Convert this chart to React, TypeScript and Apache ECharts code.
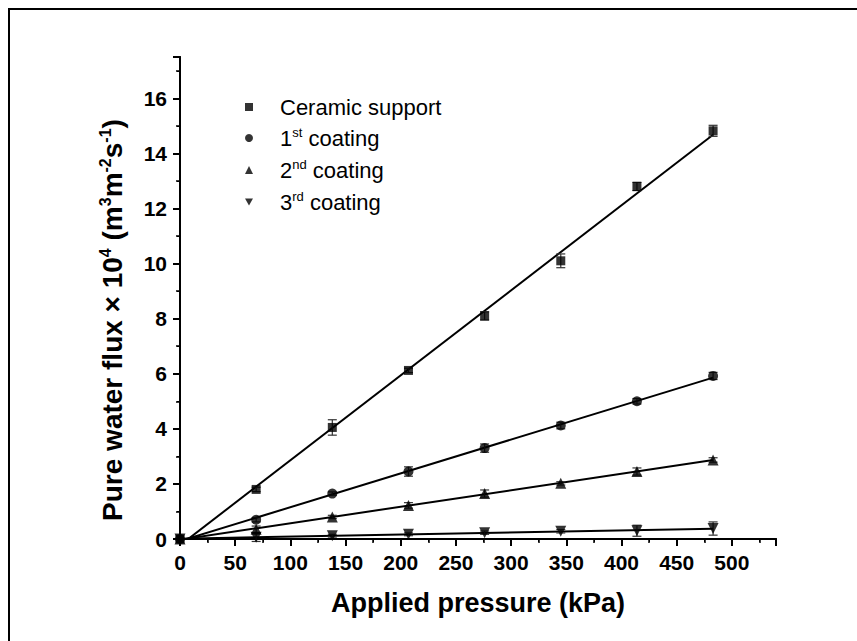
import React, { useEffect, useRef } from "react";
import * as echarts from "echarts";

const pressures = [0, 69, 138, 207, 276, 345, 414, 483];
const ceramic = [0, 1.8, 4.05, 6.12, 8.1, 10.1, 12.8, 14.82];
const ceramicErr = [0, 0.08, 0.28, 0.08, 0.15, 0.25, 0.15, 0.2];
const coat1 = [0, 0.7, 1.65, 2.45, 3.3, 4.12, 5.0, 5.92];
const coat1Err = [0, 0.08, 0.06, 0.17, 0.15, 0.12, 0.1, 0.13];
const coat2 = [0, 0.35, 0.8, 1.22, 1.65, 2.02, 2.45, 2.87];
const coat2Err = [0, 0.12, 0.06, 0.1, 0.13, 0.06, 0.13, 0.08];
const coat3 = [0, 0.06, 0.12, 0.17, 0.23, 0.28, 0.3, 0.38];
const coat3Err = [0, 0.15, 0.05, 0.05, 0.06, 0.06, 0.2, 0.24];

const seriesNames = ["Ceramic support", "1st coating", "2nd coating", "3rd coating"];
const legendLabels: Record<string, string> = {
  "Ceramic support": "{t|Ceramic support}",
  "1st coating": "{t|1}{s|st}{t| coating}",
  "2nd coating": "{t|2}{s|nd}{t| coating}",
  "3rd coating": "{t|3}{s|rd}{t| coating}",
};
const symbols = ["rect", "circle", "triangle", "path://M0,0L10,0L5,9Z"];
const symbolSizes = [9, 10, 11, 11];

function fit(xs: number[], ys: number[]) {
  const n = xs.length;
  const mx = xs.reduce((a, b) => a + b, 0) / n;
  const my = ys.reduce((a, b) => a + b, 0) / n;
  let num = 0, den = 0;
  for (let i = 0; i < n; i++) {
    num += (xs[i] - mx) * (ys[i] - my);
    den += (xs[i] - mx) ** 2;
  }
  const k = num / den;
  const b = my - k * mx;
  const x0 = xs[0], x1 = xs[n - 1];
  return [[x0, k * x0 + b], [x1, k * x1 + b]];
}

export default function App() {
  const ref = useRef<HTMLDivElement>(null);
  useEffect(() => {
    if (!ref.current) return;
    const chart = echarts.init(ref.current, undefined, { renderer: "svg" });
    const values = [ceramic, coat1, coat2, coat3];
    const errs = [ceramicErr, coat1Err, coat2Err, coat3Err];
    const series: any[] = [];
    values.forEach((v, i) => {
      series.push({
        type: "line",
        name: "fit" + i,
        data: fit(pressures, v),
        symbol: "none",
        lineStyle: { color: "#000", width: 2 },
        clip: true,
        silent: true,
        z: 2,
      });
      series.push({
        type: "custom",
        name: "err" + i,
        data: pressures.map((x, j) => [x, v[j], errs[i][j]]).filter((d) => d[2] > 0),
        renderItem: (params: any, api: any) => {
          const x = api.value(0), y = api.value(1), e = api.value(2);
          const top = api.coord([x, y + e]);
          const bot = api.coord([x, y - e]);
          const hw = 4.5;
          const style = { stroke: "#333", lineWidth: 1.2 };
          return {
            type: "group",
            children: [
              { type: "line", shape: { x1: top[0], y1: top[1], x2: bot[0], y2: bot[1] }, style },
              { type: "line", shape: { x1: top[0] - hw, y1: top[1], x2: top[0] + hw, y2: top[1] }, style },
              { type: "line", shape: { x1: bot[0] - hw, y1: bot[1], x2: bot[0] + hw, y2: bot[1] }, style },
            ],
          };
        },
        z: 3,
        silent: true,
      });
      series.push({
        type: "scatter",
        name: seriesNames[i],
        data: pressures.map((x, j) => [x, v[j]]),
        symbol: symbols[i],
        symbolSize: symbolSizes[i],
        itemStyle: { color: "#000" },
        z: 4,
      });
    });

    const baseLabel = { fontFamily: "Liberation Sans", fontWeight: "bold", fontSize: 21, color: "#000" };
    const axisLine = { show: true, lineStyle: { color: "#000", width: 2 } };

    chart.setOption({
      animation: false,
      backgroundColor: "#fff",
      graphic: [
        {
          type: "rect",
          shape: { x: 9, y: 9, width: 900, height: 700 },
          style: { fill: "none", stroke: "#000", lineWidth: 2 },
          z: -1,
          silent: true,
        },
      ],
      grid: { left: 180, top: 57, right: 81, bottom: 102, containLabel: false },
      legend: {
        data: seriesNames.map((n, i) => ({ name: n, icon: symbols[i] })),
        orient: "vertical",
        left: 240,
        top: 91,
        itemWidth: 8,
        itemHeight: 8,
        itemGap: 8,
        selectedMode: false,
        formatter: (name: string) => legendLabels[name],
        textStyle: {
          padding: [0, 0, 0, 22],
          rich: {
            t: { fontFamily: "Liberation Sans", fontSize: 22, color: "#000", lineHeight: 24 },
            s: { fontFamily: "Liberation Sans", fontSize: 13, color: "#000", lineHeight: 24, padding: [0, 0, 11, 0] },
          },
        },
      },
      xAxis: [
        {
          type: "value",
          min: 0,
          max: 540,
          interval: 50,
          position: "bottom",
          name: "Applied pressure (kPa)",
          nameLocation: "middle",
          nameGap: 50,
          nameTextStyle: { fontFamily: "Liberation Sans", fontWeight: "bold", fontSize: 27, color: "#000" },
          axisLine,
          axisTick: { show: true, inside: false, length: 7, lineStyle: { color: "#000", width: 2 } },
          minorTick: { show: true, splitNumber: 2, length: 4, lineStyle: { color: "#000", width: 1.5 } },
          axisLabel: { ...baseLabel, margin: 13, showMaxLabel: false },
          splitLine: { show: false },
        },
        {
          type: "value",
          min: 0,
          max: 540,
          interval: 50,
          position: "top",
          axisLine,
          axisTick: { show: true, inside: true, length: 4, lineStyle: { color: "#000", width: 1.5 } },
          minorTick: { show: true, splitNumber: 2, length: 3, lineStyle: { color: "#000", width: 1 } },
          axisLabel: { show: false },
          splitLine: { show: false },
        },
      ],
      yAxis: [
        {
          type: "value",
          min: 0,
          max: 17.5,
          interval: 2,
          position: "left",
          name: "{a|Pure water flux × 10}{s|4}{a| (m}{s|3}{a|m}{s|-2}{a|s}{s|-1}{a|)}",
          nameLocation: "middle",
          nameGap: 52,
          nameRotate: 90,
          nameTextStyle: {
            padding: [0, 44, 0, 0],
            rich: {
              a: { fontFamily: "Liberation Sans", fontWeight: "bold", fontSize: 28, color: "#000", lineHeight: 32 },
              s: { fontFamily: "Liberation Sans", fontWeight: "bold", fontSize: 16, color: "#000", lineHeight: 32, padding: [0, 0, 14, 0] },
            },
          },
          axisLine,
          axisTick: { show: true, inside: false, length: 7, lineStyle: { color: "#000", width: 2 } },
          minorTick: { show: true, splitNumber: 2, length: 4, lineStyle: { color: "#000", width: 1.5 } },
          axisLabel: { ...baseLabel, margin: 13, showMaxLabel: false },
          splitLine: { show: false },
        },
        {
          type: "value",
          min: 0,
          max: 17.5,
          interval: 2,
          position: "right",
          axisLine,
          axisTick: { show: true, inside: true, length: 5, lineStyle: { color: "#000", width: 1.5 } },
          minorTick: { show: true, splitNumber: 2, length: 3, lineStyle: { color: "#000", width: 1 } },
          axisLabel: { show: false },
          splitLine: { show: false },
        },
      ],
      series,
    });
    return () => chart.dispose();
  }, []);
  return <div ref={ref} style={{ width: 857, height: 641, position: "absolute", left: 0, top: 0 }} />;
}
